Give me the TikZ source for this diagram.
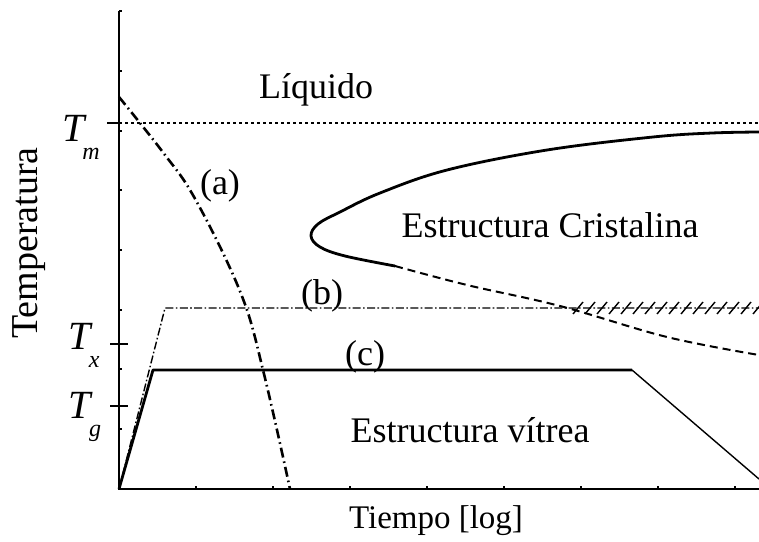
\documentclass[tikz,border=0pt]{standalone}
\usepackage{fontspec}
\setmainfont{Liberation Serif}
\usetikzlibrary{calc}
\newcommand{\tsub}[2]{#1\kern-1pt\raisebox{-0.45em}{\fontsize{12}{12}\selectfont #2}}

\begin{document}
\begin{tikzpicture}[x=0.5pt, y=-0.5pt, font=\fontsize{18}{20}\selectfont,
  axisline/.style={line width=1pt},
  tickline/.style={line width=0.8pt},
  thickcurve/.style={line width=1.4pt, line join=round},
  thincurve/.style={line width=0.7pt},
  coolline/.style={line width=1.3pt, dash pattern=on 5pt off 2pt on 0.8pt off 2pt},
  pathb/.style={line width=0.7pt, dash pattern=on 4pt off 1.2pt on 0.8pt off 1.2pt},
  meltline/.style={line width=0.7pt, dash pattern=on 1.5pt off 1.5pt},
  tlabel/.style={inner sep=0pt, font=\fontsize{20}{20}\selectfont\itshape}]
  \useasboundingbox (0,0) rectangle (759,541);

  \coordinate (origin) at (119,489);
  \coordinate (ytop) at (119,11);
  \coordinate (xend) at (759,489);
  \draw[axisline] (ytop) -- (origin) -- (xend);
  \foreach \ty in {11,71,131,190,250,310,369,429}
    \draw[tickline] (119,\ty) -- (122,\ty);
  \foreach \tx in {196,273,...,735}
    \draw[tickline] (\tx,489) -- (\tx,486);

  \coordinate (tm) at (119,123);
  \coordinate (tx) at (119,344);
  \coordinate (tg) at (119,406);
  \draw[tickline] ($(tm)+(-12,0)$) -- (tm);
  \draw[tickline] ($(tx)+(-9,0)$) -- ($(tx)+(9,0)$);
  \draw[tickline] ($(tg)+(-9,0)$) -- ($(tg)+(9,0)$);
  \draw[meltline] (tm) -- (759,123);

  % (a)
  \draw[coolline] plot[smooth, tension=0.6] coordinates {(119,97) (140,123) (165,155) (190,190) (223,253) (247,310) (263,370) (277,430) (290,489)};

  % (b)
  \coordinate (bcorner) at (165,308);
  \coordinate (bend) at (759,308);
  \draw[pathb] (origin) -- (bcorner) -- (bend);
  \foreach \hx in {578,590,...,758}
    \draw[thincurve] (\hx-5,314) -- (\hx+5,302);

  % (c)
  \coordinate (ccorner) at (153,370);
  \coordinate (cknee) at (632,370);
  \coordinate (cend) at (759,479);
  \draw[thickcurve] (origin) -- (ccorner) -- (cknee);
  \draw[thincurve] (cknee) -- (cend);

  % nariz de cristalizacion
  \draw[thickcurve] plot[smooth, tension=0.6] coordinates {(759,132) (712,133) (653,137) (547,150) (447,170) (380,193) (340,212) (318,224) (311,236) (320,247) (345,256) (395,266)};
  \draw[thincurve, line width=1pt, dash pattern=on 4pt off 2.5pt] plot[smooth, tension=0.6] coordinates {(395,266) (467,285) (560,306) (667,337) (759,355)};

  \node[tlabel] (tmlabel) at (81,137) {\tsub{T}{m}};
  \node[tlabel] (txlabel) at (84,345) {\tsub{T}{x}};
  \node[tlabel] (tglabel) at (85,417) {\tsub{T}{g}};

  \node[font=\fontsize{19}{20}\selectfont, rotate=90] (temp) at (29,243) {Temperatura};
  \node[anchor=base] (liq) at (316,98) {Líquido};
  \node[anchor=base] (cris) at (550,237) {Estructura Cristalina};
  \node[anchor=base] (vit) at (470,442) {Estructura vítrea};
  \node[anchor=base, font=\fontsize{16.5}{18}\selectfont] (tiempo) at (436,528) {Tiempo [log]};
  \node (la) at (220,186) {(a)};
  \node (lb) at (322,296) {(b)};
  \node (lc) at (365,357) {(c)};
\end{tikzpicture}
\end{document}
